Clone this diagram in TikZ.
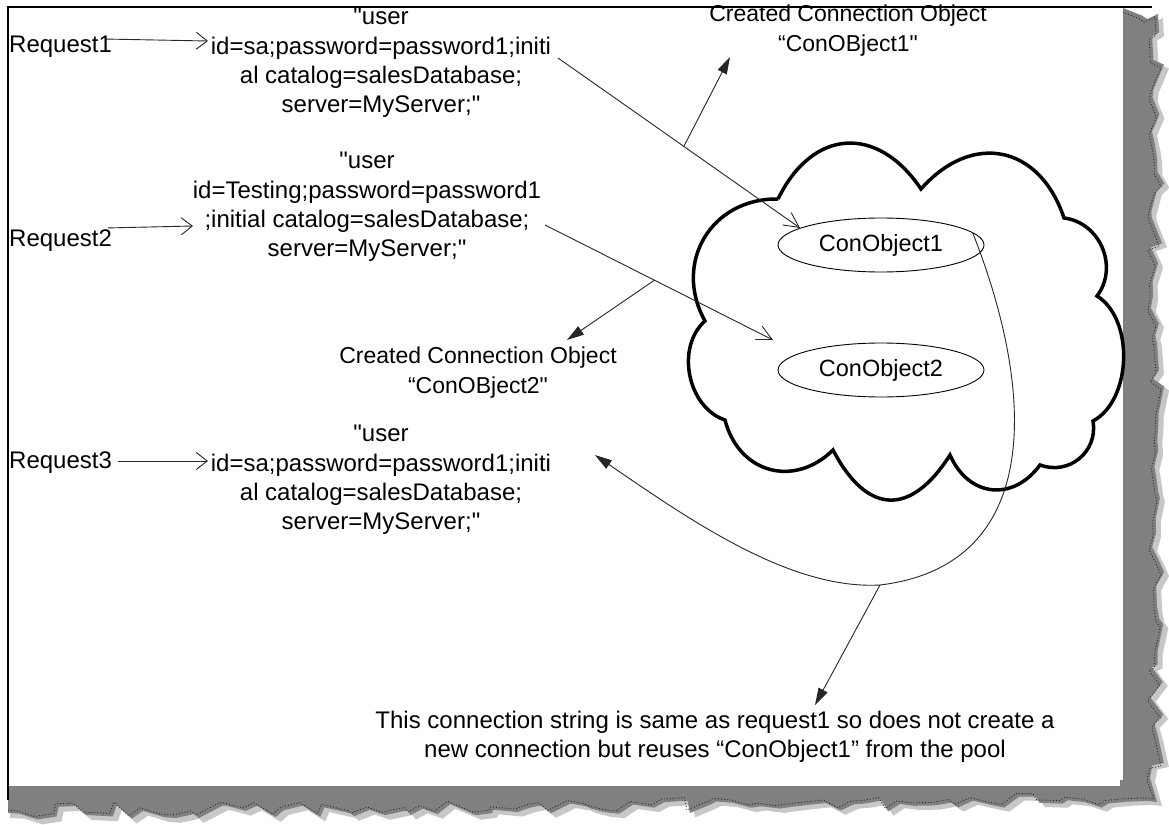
\documentclass[tikz,border=0pt]{standalone}
\usepackage{fontspec}
\setmainfont{Liberation Sans}[Ligatures=TeXOff]
\usetikzlibrary{arrows.meta,decorations.pathmorphing,shapes.geometric}
\begin{document}
\begin{tikzpicture}[x=1pt,y=-1pt,
  lbl/.style={inner sep=0pt, align=center, font=\fontsize{24}{29}\selectfont},
  blk/.style={inner sep=0pt, align=center, font=\fontsize{24}{29.3}\selectfont},
  crt/.style={inner sep=0pt, align=center, font=\fontsize{23}{30}\selectfont},
  btm/.style={inner sep=0pt, align=center, font=\fontsize{24}{28.5}\selectfont},
  conn/.style={line width=0.9pt, draw=black!85},
  openarr/.style={conn, -{Straight Barb[length=11pt,width=17pt,line width=0.9pt]}},
  openarrB/.style={conn, -{Straight Barb[length=15pt,width=15pt,line width=0.9pt]}},
  fillarr/.style={conn, -{Triangle[length=17pt,width=10pt]}},
  obj/.style={ellipse, draw, line width=0.9pt, minimum width=206pt, minimum height=54pt, inner sep=0pt, font=\fontsize{23.5}{28}\selectfont},
  cloudline/.style={line width=3.5pt, draw=black, line join=miter},
  torn/.style={fill=black!50},
  tear/.style={decoration={random steps,segment length=14pt,amplitude=7pt}},
]
\useasboundingbox (0,0) rectangle (1169,824);
\fill[white] (0,0) rectangle (1169,824);
% torn shadow
\pgfmathsetseed{17}
\fill[black!22] (1128,12) decorate[tear]{ -- (1163,18) -- (1162,806) -- (10,818)} -- (10,790) -- (1120,790) -- cycle;
\pgfmathsetseed{17}
\fill[torn] (1123,8) decorate[tear]{ -- (1158,14) -- (1157,802) -- (8,813)} -- (8,786) -- (1120,786) -- cycle;
\pgfmathsetseed{17}
\draw[black!85, line width=0.9pt, dotted] (1120,11) decorate[tear]{ -- (1155,17) -- (1154,799) -- (8,810)};
% page
\fill[white] (8,7) rectangle (1123,780);
\draw[line width=1.6pt] (8,800) -- (8,7) -- (1152,7);

% texts
\node[lbl, anchor=west] (r1) at (9,47) {Request1};
\node[lbl, anchor=west] (r2) at (9,241) {Request2};
\node[lbl, anchor=west] (r3) at (9,463) {Request3};

\node[blk] (b1) at (381,63) {"user\\id=sa;password=password1;initi\\al catalog=salesDatabase;\\server=MyServer;"};
\node[blk] (b2) at (367,207) {"user\\id=Testing;password=password1\\;initial catalog=salesDatabase;\\server=MyServer;"};
\node[blk] (b3) at (381,480) {"user\\id=sa;password=password1;initi\\al catalog=salesDatabase;\\server=MyServer;"};

\node[crt] (c1) at (848,31) {Created Connection Object\\“ConOBject1"};
\node[crt] (c2) at (478,373) {Created Connection Object\\“ConOBject2"};

\node[btm] (bt) at (715,737) {This connection string is same as request1 so does not create a\\new connection but reuses “ConObject1” from the pool};

% cloud
\draw[cloudline] (778,199)
  to[bend left=60,looseness=1.4] (921,189)
  to[bend left=60,looseness=1.35] (1064,218)
  to[bend left=60,looseness=1.1] (1097,296)
  to[bend left=60,looseness=0.9] (1093,421)
  to[bend left=60,looseness=1.15] (1040,465)
  to[bend left=60,looseness=1.3] (950,455)
  to[bend left=60,looseness=1.6] (833,450)
  to[bend left=60,looseness=1.25] (725,420)
  to[bend left=60,looseness=1.0] (705,321)
  to[bend left=60,looseness=1.2] (778,199);

\node[obj] (e1) at (881,245) {ConObject1};
\node[obj] (e2) at (881,370) {ConObject2};

% request arrows
\draw[openarr] (r1.north east) ++(-6,3) -- (208,41);
\draw[openarr] (r2.north east) ++(-4,-2) -- (193,226);
\draw[openarr] (r3.east) ++(6,-2) -- (208,461);

% lines to objects
\coordinate (l1s) at (558,58);
\coordinate (l1e) at (800,228);
\draw[openarrB] (l1s) -- coordinate[pos=0.52] (m1) (l1e);
\coordinate (l2s) at (545,225);
\coordinate (l2e) at (773,340);
\draw[openarrB] (l2s) -- coordinate[pos=0.48] (m2) (l2e);

\coordinate (t1) at (730,57);
\coordinate (t2) at (567,340);
\draw[fillarr] (m1) -- (t1);
\draw[fillarr] (m2) -- (t2);

% reuse curve
\coordinate (tip3) at (595,455);
\draw[fillarr] (e1.8) .. controls (1035,390) and (1045,565) .. (880,585) coordinate (cb)
   .. controls (790,590) and (690,520) .. (tip3);
\coordinate (t3) at (815,705);
\draw[fillarr] (cb) -- (t3);
\end{tikzpicture}
\end{document}
